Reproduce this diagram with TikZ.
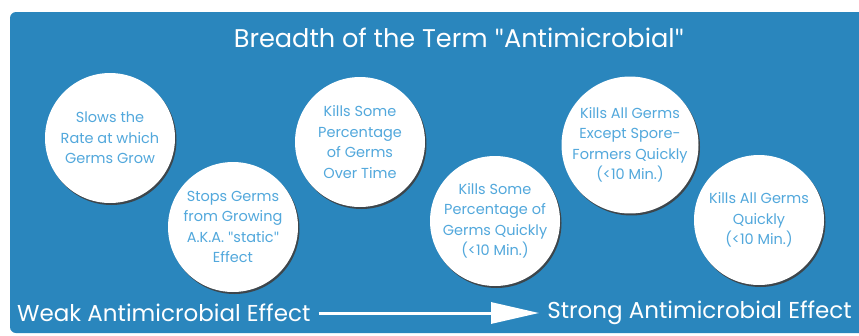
\documentclass[tikz,border=0pt]{standalone}
\usepackage{fontspec}
\setmainfont{Poppins}
\newfontfamily\qfont{Lato}
\usetikzlibrary{arrows.meta,shadows}
\definecolor{panel}{HTML}{2A86BD}
\definecolor{ctext}{HTML}{52A8DC}
\newcommand{\dq}{{\qfont\symbol{34}}}
\begin{document}
\begin{tikzpicture}[x=1pt,y=-1pt,
  bubble/.style={circle,fill=white,minimum size=130pt,inner sep=0pt,align=center,
    text=ctext,font=\fontsize{14.5}{20.5}\selectfont,
    drop shadow={shadow xshift=1.5pt,shadow yshift=-2pt,fill=black!75,opacity=0.9}},
  label/.style={text=white,inner sep=0pt,font=\fontsize{23}{26}\selectfont},
  titletext/.style={text=white,inner sep=0pt,font=\fontsize{25.6}{28}\selectfont},
  arrowline/.style={white,line width=3pt,-{Triangle[length=48pt,width=21pt]}}]
\useasboundingbox (0,0) rectangle (859,335);
\fill[white] (0,0) rectangle (859,335);
\fill[panel,rounded corners=6pt] (10,12) rectangle (875,333);
\node[titletext] (title) at (459,38) {Breadth of the Term \dq Antimicrobial\dq};
\node[bubble] (b1) at (110,138) {Slows the\\Rate at which\\Germs Grow};
\node[bubble] (b2) at (233,227) {Stops Germs\\from Growing\\A.K.A. \dq static\dq\\Effect};
\node[bubble] (b3) at (360,142) {Kills Some\\Percentage\\of Germs\\Over Time};
\node[bubble] (b4) at (495,221) {Kills Some\\Percentage of\\Germs Quickly\\(<10 Min.)};
\node[bubble] (b5) at (630,145) {Kills All Germs\\Except Spore-\\Formers Quickly\\(<10 Min.)};
\node[bubble] (b6) at (759,220) {Kills All Germs\\Quickly\\(<10 Min.)};
\node[label,anchor=west] (weak) at (17,313) {Weak Antimicrobial Effect};
\node[label,anchor=east] (strong) at (852,313) {Strong Antimicrobial Effect};
\draw[arrowline] ([xshift=8pt]weak.east) -- ([xshift=-8pt]strong.west);
\end{tikzpicture}
\end{document}
